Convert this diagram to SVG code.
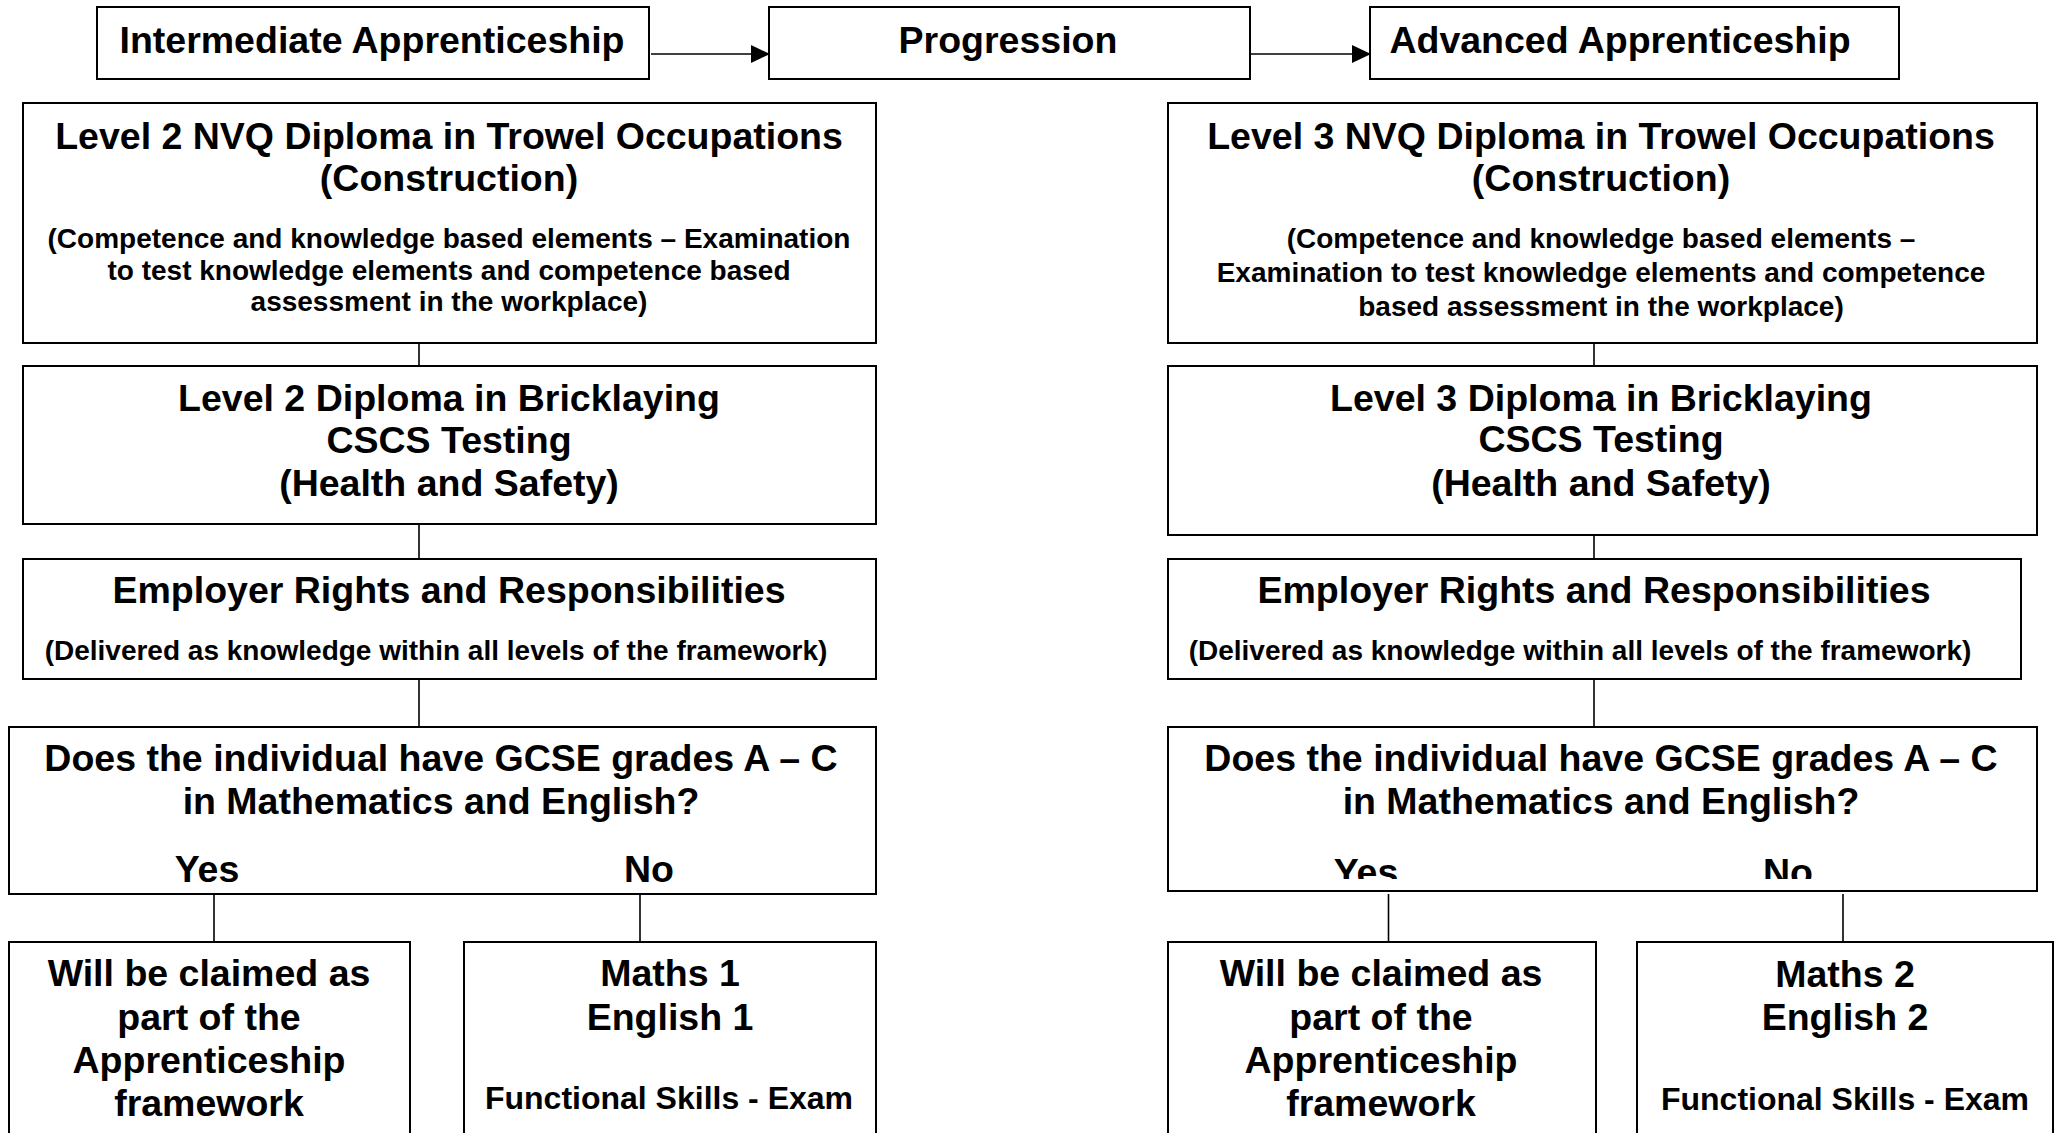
<svg xmlns="http://www.w3.org/2000/svg" width="2058" height="1133" viewBox="0 0 2058 1133">
<style>
.box{fill:#fff;stroke:#000;stroke-width:2}
.ln{stroke:#000;stroke-width:1.6;fill:none}
text{font-family:"Liberation Sans",Arial,sans-serif;font-weight:bold;fill:#000;text-anchor:middle}
.h{font-size:37.5px}
.s{font-size:28px}
.f{font-size:32px}
</style>
<defs>
<clipPath id="clipYN"><rect x="1168" y="727" width="869" height="152"/></clipPath>
</defs>
<rect width="2058" height="1133" fill="#fff"/>
<g id="connectors">
<line class="ln" x1="651" y1="54" x2="770" y2="54" stroke-width="2"/>
<path d="M751,45 L770,54 L751,63 Z" fill="#000"/>
<line class="ln" x1="1251" y1="54" x2="1371" y2="54" stroke-width="2"/>
<path d="M1352,45 L1371,54 L1352,63 Z" fill="#000"/>
<line class="ln" x1="419" y1="343" x2="419" y2="366"/>
<line class="ln" x1="419" y1="524" x2="419" y2="559"/>
<line class="ln" x1="419" y1="679" x2="419" y2="727"/>
<line class="ln" x1="214" y1="894" x2="214" y2="942"/>
<line class="ln" x1="640" y1="894" x2="640" y2="942"/>
<line class="ln" x1="1594" y1="343" x2="1594" y2="366"/>
<line class="ln" x1="1594" y1="535" x2="1594" y2="559"/>
<line class="ln" x1="1594" y1="679" x2="1594" y2="727"/>
<line class="ln" x1="1388.5" y1="894" x2="1388.5" y2="942"/>
<line class="ln" x1="1843" y1="894" x2="1843" y2="942"/>
</g>
<g id="intermediate">
<rect class="box" x="97" y="7" width="552" height="72"/>
<text class="h" x="372" y="53">Intermediate Apprenticeship</text>
</g>
<g id="progression">
<rect class="box" x="769" y="7" width="481" height="72"/>
<text class="h" x="1008" y="53">Progression</text>
</g>
<g id="advanced">
<rect class="box" x="1370" y="7" width="529" height="72"/>
<text class="h" x="1620" y="53">Advanced Apprenticeship</text>
</g>
<g id="l2-nvq">
<rect class="box" x="23" y="103" width="853" height="240"/>
<text class="h" x="449" y="149">Level 2 NVQ Diploma in Trowel Occupations</text>
<text class="h" x="449" y="191">(Construction)</text>
<text class="s" x="449" y="248">(Competence and knowledge based elements – Examination</text>
<text class="s" x="449" y="280">to test knowledge elements and competence based</text>
<text class="s" x="449" y="311">assessment in the workplace)</text>
</g>
<g id="l2-brick">
<rect class="box" x="23" y="366" width="853" height="158"/>
<text class="h" x="449" y="411">Level 2 Diploma in Bricklaying</text>
<text class="h" x="449" y="453">CSCS Testing</text>
<text class="h" x="449" y="496">(Health and Safety)</text>
</g>
<g id="l2-employer">
<rect class="box" x="23" y="559" width="853" height="120"/>
<text class="h" x="449" y="603">Employer Rights and Responsibilities</text>
<text class="s" x="436" y="660">(Delivered as knowledge within all levels of the framework)</text>
</g>
<g id="l2-gcse">
<rect class="box" x="9" y="727" width="867" height="167"/>
<text class="h" x="441" y="771">Does the individual have GCSE grades A – C</text>
<text class="h" x="441" y="814">in Mathematics and English?</text>
<text class="h" x="207" y="882">Yes</text>
<text class="h" x="649" y="882">No</text>
</g>
<g id="l2-yes">
<rect class="box" x="9" y="942" width="401" height="200"/>
<text class="h" x="209" y="986">Will be claimed as</text>
<text class="h" x="209" y="1030">part of the</text>
<text class="h" x="209" y="1073">Apprenticeship</text>
<text class="h" x="209" y="1116">framework</text>
</g>
<g id="l2-no">
<rect class="box" x="464" y="942" width="412" height="200"/>
<text class="h" x="670" y="986">Maths 1</text>
<text class="h" x="670" y="1030">English 1</text>
<text class="f" x="669" y="1109">Functional Skills - Exam</text>
</g>
<g id="l3-nvq">
<rect class="box" x="1168" y="103" width="869" height="240"/>
<text class="h" x="1601" y="149">Level 3 NVQ Diploma in Trowel Occupations</text>
<text class="h" x="1601" y="191">(Construction)</text>
<text class="s" x="1601" y="248">(Competence and knowledge based elements –</text>
<text class="s" x="1601" y="282">Examination to test knowledge elements and competence</text>
<text class="s" x="1601" y="316">based assessment in the workplace)</text>
</g>
<g id="l3-brick">
<rect class="box" x="1168" y="366" width="869" height="169"/>
<text class="h" x="1601" y="411">Level 3 Diploma in Bricklaying</text>
<text class="h" x="1601" y="452">CSCS Testing</text>
<text class="h" x="1601" y="496">(Health and Safety)</text>
</g>
<g id="l3-employer">
<rect class="box" x="1168" y="559" width="853" height="120"/>
<text class="h" x="1594" y="603">Employer Rights and Responsibilities</text>
<text class="s" x="1580" y="660">(Delivered as knowledge within all levels of the framework)</text>
</g>
<g id="l3-gcse">
<rect class="box" x="1168" y="727" width="869" height="164"/>
<text class="h" x="1601" y="771">Does the individual have GCSE grades A – C</text>
<text class="h" x="1601" y="814">in Mathematics and English?</text>
<g clip-path="url(#clipYN)">
<text class="h" x="1366" y="885">Yes</text>
<text class="h" x="1788" y="885">No</text>
</g>
</g>
<g id="l3-yes">
<rect class="box" x="1168" y="942" width="428" height="200"/>
<text class="h" x="1381" y="986">Will be claimed as</text>
<text class="h" x="1381" y="1030">part of the</text>
<text class="h" x="1381" y="1073">Apprenticeship</text>
<text class="h" x="1381" y="1116">framework</text>
</g>
<g id="l3-no">
<rect class="box" x="1637" y="942" width="416" height="200"/>
<text class="h" x="1845" y="987">Maths 2</text>
<text class="h" x="1845" y="1030">English 2</text>
<text class="f" x="1845" y="1110">Functional Skills - Exam</text>
</g>
</svg>
